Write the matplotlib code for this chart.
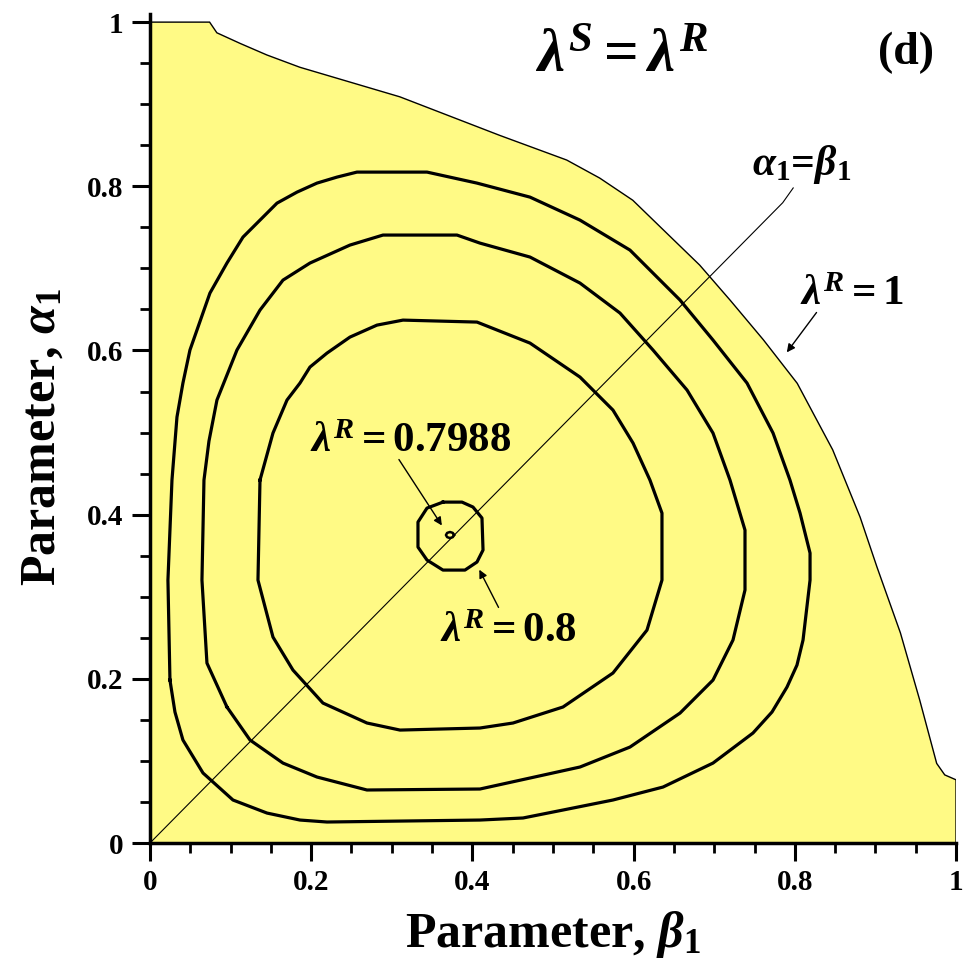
import matplotlib
matplotlib.use("Agg")
import matplotlib.pyplot as plt
from matplotlib.ticker import MultipleLocator

plt.rcParams["font.family"] = ["Liberation Serif", "DejaVu Serif"]
plt.rcParams["font.weight"] = "bold"
plt.rcParams["axes.labelweight"] = "bold"
plt.rcParams["mathtext.fontset"] = "custom"
plt.rcParams["mathtext.rm"] = "Liberation Serif:bold"
plt.rcParams["mathtext.it"] = "Liberation Serif:italic:bold"
plt.rcParams["mathtext.bf"] = "Liberation Serif:bold"
plt.rcParams["mathtext.sf"] = "Liberation Serif:italic"

# boundary lambda^R = 1 (closed region, filled)
boundary_x = [0.0, 0.0, 0.074, 0.083, 0.112, 0.145, 0.186, 0.310, 0.434, 0.517, 0.558,
              0.599, 0.641, 0.682, 0.720, 0.761, 0.803, 0.847, 0.881, 0.902, 0.931,
              0.955, 0.976, 0.986, 1.0, 1.0]
boundary_y = [0.0, 1.0, 1.0, 0.987, 0.974, 0.960, 0.945, 0.909, 0.862, 0.832, 0.810,
              0.783, 0.743, 0.704, 0.661, 0.613, 0.560, 0.479, 0.397, 0.336, 0.256,
              0.174, 0.097, 0.083, 0.077, 0.0]

# outer contour
c3_x = [0.0248, 0.0223, 0.0273, 0.0335, 0.0409, 0.0496, 0.0744, 0.0955, 0.1154, 0.1365,
        0.1576, 0.1824, 0.2072, 0.2320, 0.2568, 0.3437, 0.4057, 0.4715, 0.5335, 0.5955,
        0.6576, 0.6985, 0.7407, 0.7730, 0.7940, 0.8065, 0.8189, 0.8189, 0.8102, 0.8027,
        0.7903, 0.7717, 0.7481, 0.6985, 0.6365, 0.5744, 0.5124, 0.4628, 0.4094, 0.2196,
        0.1861, 0.1452, 0.1030, 0.0658, 0.0409, 0.0310, 0.0248]
c3_y = [0.1985, 0.3203, 0.4421, 0.5189, 0.5603, 0.6005, 0.6699, 0.7065, 0.7381, 0.7588,
        0.7795, 0.7929, 0.8039, 0.8112, 0.8173, 0.8173, 0.8039, 0.7868, 0.7588, 0.7223,
        0.6614, 0.6127, 0.5603, 0.4994, 0.4421, 0.4019, 0.3532, 0.3203, 0.2473, 0.2168,
        0.1900, 0.1596, 0.1340, 0.0974, 0.0682, 0.0524, 0.0402, 0.0305, 0.0280, 0.0256,
        0.0280, 0.0365, 0.0524, 0.0853, 0.1255, 0.1596, 0.1985]

# middle contour
c2_x = [0.0955, 0.0707, 0.0645, 0.0670, 0.0732, 0.0831, 0.1079, 0.1365, 0.1650, 0.1985,
        0.2481, 0.2891, 0.3809, 0.4094, 0.4715, 0.5335, 0.5831, 0.6241, 0.6663, 0.6985,
        0.7196, 0.7382, 0.7382, 0.7233, 0.6985, 0.6576, 0.5955, 0.5335, 0.4715, 0.4094,
        0.2692, 0.2072, 0.1650, 0.1241, 0.0955]
c2_y = [0.1657, 0.2192, 0.3203, 0.4421, 0.4896, 0.5396, 0.6005, 0.6492, 0.6857, 0.7065,
        0.7284, 0.7406, 0.7406, 0.7308, 0.7138, 0.6821, 0.6456, 0.6005, 0.5518, 0.4994,
        0.4421, 0.3812, 0.3082, 0.2473, 0.1985, 0.1583, 0.1169, 0.0926, 0.0792, 0.0658,
        0.0646, 0.0804, 0.0974, 0.1255, 0.1657]

# inner contour
c1_x = [0.1365, 0.1526, 0.1700, 0.1861, 0.1985, 0.2196, 0.2481, 0.2816, 0.3139, 0.4057,
        0.4715, 0.5335, 0.5744, 0.5993, 0.6203, 0.6352, 0.6352, 0.6166, 0.5744, 0.5124,
        0.4504, 0.4094, 0.3102, 0.2692, 0.2146, 0.1774, 0.1526, 0.1340, 0.1365]
c1_y = [0.4421, 0.4994, 0.5396, 0.5603, 0.5798, 0.5968, 0.6163, 0.6309, 0.6370, 0.6346,
        0.6090, 0.5676, 0.5274, 0.4872, 0.4421, 0.4019, 0.3203, 0.2594, 0.2071, 0.1657,
        0.1462, 0.1401, 0.1376, 0.1462, 0.1705, 0.2107, 0.2509, 0.3203, 0.4421]

# lambda^R = 0.8 contour
c08_x = [0.3635, 0.3871, 0.4007, 0.4119, 0.4132, 0.4057, 0.3908, 0.3635, 0.3437, 0.3325,
         0.3325, 0.3437, 0.3635]
c08_y = [0.4153, 0.4153, 0.4093, 0.3959, 0.3569, 0.3423, 0.3325, 0.3325, 0.3447, 0.3605,
         0.3910, 0.4080, 0.4153]

# lambda^R = 0.7988 contour
c07988_x = [0.3772, 0.3757, 0.3722, 0.3687, 0.3672, 0.3687, 0.3722, 0.3757, 0.3772]
c07988_y = [0.3752, 0.3778, 0.3789, 0.3778, 0.3752, 0.3726, 0.3715, 0.3726, 0.3752]

# alpha_1 = beta_1 line with its leader bend
diag_x = [0.0, 0.785, 0.798]
diag_y = [0.0, 0.780, 0.798]

fig = plt.figure(figsize=(9.65, 9.66), dpi=100)
ax = fig.add_axes([0.1554, 0.1273, 0.8353, 0.8583])

ax.fill(boundary_x, boundary_y, facecolor="#fffa85", edgecolor="black", linewidth=1.0, zorder=1)
for cx, cy in [(c3_x, c3_y), (c2_x, c2_y), (c1_x, c1_y), (c08_x, c08_y)]:
    ax.plot(cx, cy, color="black", linewidth=2.3, zorder=3, solid_joinstyle="round")
ax.plot(c07988_x, c07988_y, color="black", linewidth=1.8, zorder=3)
ax.plot(diag_x, diag_y, color="black", linewidth=0.8, zorder=2)

ax.text(0.585, 0.957, r"$\lambda^{S} = \lambda^{R}$", fontsize=44, ha="center", va="center")
ax.text(0.938, 0.962, "(d)", fontsize=33, ha="center", va="center")
ax.text(0.808, 0.826, r"$\mathsf{\alpha}_{1}$=$\mathsf{\beta}_{1}$", fontsize=30,
        ha="center", va="center")
ax.text(0.871, 0.667, r"$\lambda^{R} = 1$", fontsize=31, ha="center", va="center")
ax.text(0.323, 0.488, r"$\lambda^{R} = 0.7988$", fontsize=31, ha="center", va="center")
ax.text(0.445, 0.257, r"$\lambda^{R} = 0.8$", fontsize=31, ha="center", va="center")

arrow = dict(arrowstyle="-|>", color="black", lw=1.0, mutation_scale=12)
ax.annotate("", xy=(0.788, 0.595), xytext=(0.829, 0.649), arrowprops=arrow)
ax.annotate("", xy=(0.364, 0.384), xytext=(0.307, 0.470), arrowprops=arrow)
ax.annotate("", xy=(0.407, 0.336), xytext=(0.434, 0.284), arrowprops=arrow)

ax.set_xlim(0, 1)
ax.set_ylim(0, 1.01)
ax.spines["top"].set_visible(False)
ax.spines["right"].set_visible(False)
for side in ["left", "bottom"]:
    ax.spines[side].set_linewidth(2.5)
    ax.spines[side].set_zorder(5)

ax.xaxis.set_major_locator(MultipleLocator(0.2))
ax.yaxis.set_major_locator(MultipleLocator(0.2))
ax.xaxis.set_minor_locator(MultipleLocator(0.05))
ax.yaxis.set_minor_locator(MultipleLocator(0.05))
ax.tick_params(which="major", direction="out", length=13, width=2.2, labelsize=21, pad=6)
ax.tick_params(which="minor", direction="out", length=7, width=2.0)

tick_vals = [0, 0.2, 0.4, 0.6, 0.8, 1.0]
tick_labels = ["0", "0.2", "0.4", "0.6", "0.8", "1"]
ax.set_xticks(tick_vals)
ax.set_xticklabels(tick_labels)
ax.set_yticks(tick_vals)
ax.set_yticklabels(tick_labels)

ax.set_xlabel(r"Parameter, $\beta_{1}$", fontsize=36, labelpad=9)
ax.set_ylabel(r"Parameter, $\alpha_{1}$", fontsize=36)
ax.yaxis.set_label_coords(-0.105, 0.49)

fig.savefig("out.png", dpi=100)
